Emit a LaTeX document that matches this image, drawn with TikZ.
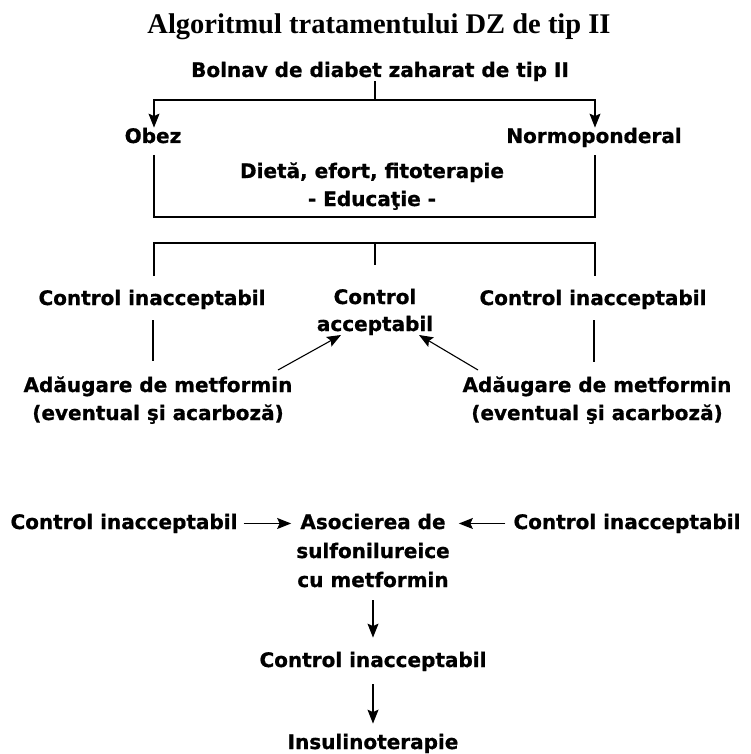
\documentclass[tikz,border=0pt]{standalone}
\usepackage{fontspec}
\setmainfont{Liberation Serif}
\newfontfamily\dsans{DejaVu Sans}[BoldFeatures={FakeBold=0.8}]
\newfontfamily\tserif{Liberation Serif}
\usetikzlibrary{arrows.meta}
\begin{document}
\begin{tikzpicture}[x=1pt,y=-1pt,
  lbl/.style={font=\dsans\bfseries\fontsize{20}{28}\selectfont, inner sep=0pt, align=center, anchor=base},
  ttl/.style={font=\tserif\bfseries\fontsize{28.5}{32}\selectfont, inner sep=0pt, anchor=base},
  ln/.style={line width=1.1pt, black},
  arr/.style={ln, -{Stealth[length=14pt,width=11pt,inset=2.5pt]}}]
\useasboundingbox (0,0) rectangle (750,754);
\fill[white] (0,0) rectangle (750,754);

% texts (anchor base = baseline of the last line)
\node[ttl] (title) at (379,34) {Algoritmul tratamentului DZ de tip II};
\node[lbl] (bolnav) at (380,77) {Bolnav de diabet zaharat de tip II};
\node[lbl] (obez) at (153,143) {Obez};
\node[lbl] (normo) at (594,143) {Normoponderal};
\node[lbl] (dieta) at (372,206) {Dietă, efort, fitoterapie\\- Educaţie -};
\node[lbl] (ci1) at (152,305) {Control inacceptabil};
\node[lbl, font=\dsans\bfseries\fontsize{20}{27}\selectfont] (ca) at (375,331) {Control\\acceptabil};
\node[lbl] (ci2) at (593,305) {Control inacceptabil};
\node[lbl] (ad1) at (158,420) {Adăugare de metformin\\(eventual şi acarboză)};
\node[lbl] (ad2) at (597,420) {Adăugare de metformin\\(eventual şi acarboză)};
\node[lbl] (ci3) at (124,529) {Control inacceptabil};
\node[lbl, font=\dsans\bfseries\fontsize{20}{29}\selectfont] (as) at (373,587) {Asocierea de\\sulfonilureice\\cu metformin};
\node[lbl] (ci4) at (627,529) {Control inacceptabil};
\node[lbl] (ci5) at (373,667) {Control inacceptabil};
\node[lbl] (ins) at (373,749) {Insulinoterapie};

% junction coordinates
\coordinate (j1) at (375,100);
\coordinate (o1) at (154,155);
\coordinate (b1l) at (154,217);
\coordinate (b1r) at (595,217);
\coordinate (n1) at (595,155);
\coordinate (c2l) at (154,276);
\coordinate (b2l) at (154,243);
\coordinate (b2r) at (595,243);
\coordinate (c2r) at (595,276);
\coordinate (m1) at (375,243);
\coordinate (m2) at (375,265);
\coordinate (v1a) at (153,320);
\coordinate (v1b) at (153,361);
\coordinate (v2a) at (594,320);
\coordinate (v2b) at (594,362);
\coordinate (d1a) at (278,370);
\coordinate (d1b) at (341,335);
\coordinate (d2a) at (478,370);
\coordinate (d2b) at (419,335);

% connectors
\draw[ln] (j1 |- bolnav.south) -- (j1);
\draw[arr] (j1) -| ([xshift=1pt]obez.north);
\draw[arr] (j1) -| ([xshift=1pt]normo.north);
\draw[ln] (o1) -- (b1l) -- (b1r) -- (n1);
\draw[ln] (c2l) -- (b2l) -- (b2r) -- (c2r);
\draw[ln] (m1) -- (m2);
\draw[ln] (v1a) -- (v1b);
\draw[ln] (v2a) -- (v2b);
\draw[arr] (d1a) -- (d1b);
\draw[arr] (d2a) -- (d2b);
\draw[arr, shorten <=6pt, shorten >=5pt] (ci3.east) -- (ci3.east -| as.west);
\draw[arr, shorten <=8pt, shorten >=9pt] (ci4.west) -- (ci4.west -| as.east);
\draw[arr, shorten <=13pt, shorten >=14pt] (as) -- (ci5);
\draw[arr, shorten <=13pt, shorten >=10pt] (ci5) -- (ins);
\end{tikzpicture}
\end{document}
